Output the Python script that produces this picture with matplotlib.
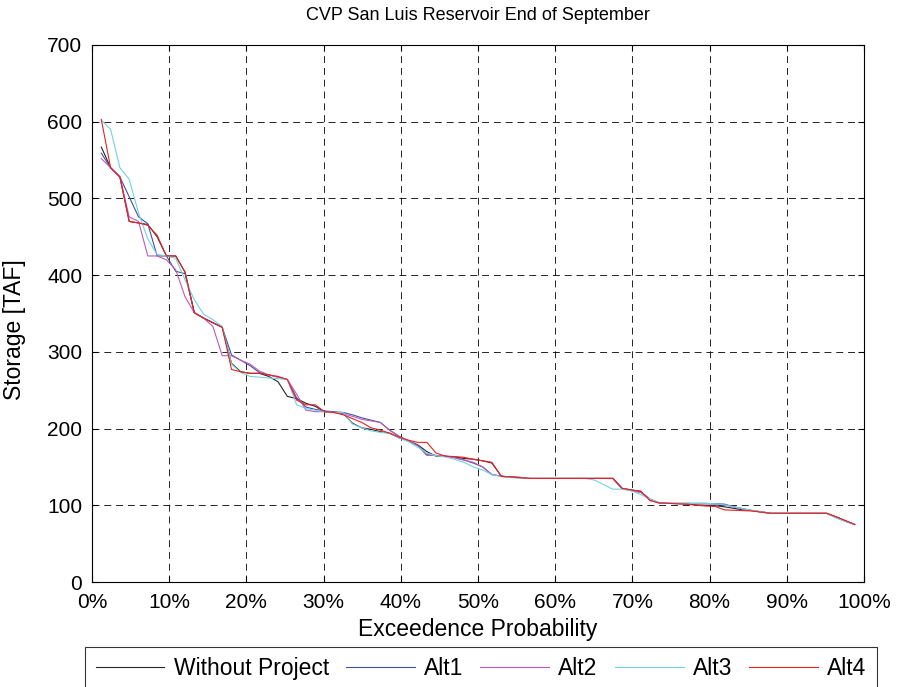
import matplotlib
matplotlib.use("Agg")
import matplotlib.pyplot as plt
import numpy as np

plt.rcParams['font.family'] = ['Liberation Sans', 'DejaVu Sans']
plt.rcParams['lines.scale_dashes'] = False

title = "CVP San Luis Reservoir End of September"
series_names = ["Without Project", "Alt1", "Alt2", "Alt3", "Alt4"]
series_colors = ["#262626", "#3f51a8", "#c05ab8", "#6fd3e3", "#ee2020"]

without_project = [567, 540, 528, 470, 468, 466, 450, 425, 425, 404,
                   351, 344, 338, 332, 285, 274, 272, 272, 268, 261,
                   242, 239, 233, 229, 222, 221, 220, 207, 201, 199,
                   196, 194, 188, 184, 179, 170, 164, 164, 163, 161,
                   160, 158, 155, 138, 137, 136.5, 135, 135, 135, 135,
                   135, 135, 135, 135, 135, 135, 122, 120, 118, 107,
                   103, 102.5, 102, 101.5, 100.5, 100, 99.5, 98, 96, 94,
                   93, 91, 89.5, 89.5, 89.5, 89.5, 89.5, 89.5, 89.5, 85,
                   80, 75]
alt1 = [559, 540, 528, 502, 476, 467, 425, 425, 405, 402,
        351, 344, 338, 332, 296, 289, 282, 273, 270, 267,
        264, 240, 228, 225, 223, 222, 221, 218, 214, 211,
        208, 198, 190, 184, 178, 166, 165, 164, 162, 159,
        155, 150, 140, 138, 136.5, 136, 135, 135, 135, 135,
        135, 135, 135, 135, 135, 135, 122, 119, 117, 108,
        103, 102.5, 102.5, 102.5, 102.5, 102.5, 102, 101.5, 98, 95.5,
        93, 91.5, 89.5, 89.5, 89.5, 89.5, 89.5, 89.5, 89.5, 84,
        79, 75]
alt2 = [552, 540, 528, 476, 470, 425, 425, 420, 407, 372,
        351, 344, 333, 295, 295, 289, 284, 275, 270, 267,
        264, 245, 224, 222, 222, 221, 219, 216, 212, 210,
        208, 198, 190, 184, 178, 165, 165, 164, 162, 159,
        156, 150, 140, 138, 136.5, 136, 135, 135, 135, 135,
        135, 135, 135, 135, 135, 135, 122, 119, 117, 108,
        103, 102.5, 102.5, 102.5, 102, 102, 101.5, 100.5, 98, 95,
        93, 91.5, 89.5, 89.5, 89.5, 89.5, 89.5, 89.5, 89.5, 84.5,
        79.5, 75]
alt3 = [602, 590, 540, 525, 481, 447, 427, 425, 422, 394,
        368, 349, 342, 333, 284, 273, 268, 267, 266, 265,
        264, 231, 226, 224, 222, 221, 221, 206, 201, 197,
        195, 194, 188, 183, 176, 168, 164.5, 163, 160, 156,
        150, 146, 140, 137.5, 136, 135.5, 135, 135, 135, 135,
        135, 135, 135, 133, 127, 121, 121, 119, 114, 108,
        103, 102.5, 102.5, 102.5, 102.5, 102.5, 102, 100.5, 98, 95.5,
        93.5, 91.5, 89.5, 89.5, 89.5, 89.5, 89.5, 89.5, 89.5, 83.5,
        79, 75]
alt4 = [603, 540, 528, 470, 468, 465, 452, 425, 425, 404,
        351, 344, 338, 332, 277, 274, 272, 272, 270, 268,
        264, 237, 231, 231, 222, 221, 218, 213, 208, 201,
        198, 194, 189, 185, 182, 182, 168, 164, 163.5, 162.5,
        160, 158, 156, 137.5, 137, 136, 135, 135, 135, 135,
        135, 135, 135, 135, 135, 135, 122, 120, 118.5, 106,
        103, 102.5, 102, 101.5, 100, 99, 98.5, 94, 93.5, 93,
        92.5, 91, 89.5, 89.5, 89.5, 89.5, 89.5, 89.5, 89.5, 85,
        80, 75]

x_ticks = [0, 0.1, 0.2, 0.3, 0.4, 0.5, 0.6, 0.7, 0.8, 0.9, 1.0]
x_ticklabels = ["0%", "10%", "20%", "30%", "40%", "50%", "60%", "70%", "80%", "90%", "100%"]
y_ticks = [0, 100, 200, 300, 400, 500, 600, 700]

all_series = [without_project, alt1, alt2, alt3, alt4]
n = len(without_project)
exceed = np.arange(1, n + 1) / (n + 1)

fig = plt.figure(figsize=(8.97, 6.87), dpi=100)
ax = fig.add_axes([92 / 897, 1 - 582 / 687, 772 / 897, 537 / 687])

for vals, name, col in zip(all_series, series_names, series_colors):
    ax.plot(exceed, vals, color=col, lw=0.8, label=name)

ax.set_xlim(0, 1)
ax.set_ylim(0, 700)
ax.set_xticks(x_ticks)
ax.set_xticklabels(x_ticklabels)
ax.set_yticks(y_ticks)
ax.grid(True, color="black", linestyle=(0, (5, 3.5)), linewidth=0.6)
ax.tick_params(direction="in", top=True, right=True, labelsize=15, length=4)
ax.tick_params(axis="x", pad=8)
ax.tick_params(axis="y", pad=7)
for s in ax.spines.values():
    s.set_linewidth(0.8)

ax.set_title(title, fontsize=13, pad=18)
ax.set_xlabel("Exceedence Probability", fontsize=16.5, labelpad=4)
ax.set_ylabel("Storage [TAF]", fontsize=16.5)
ax.yaxis.set_label_coords(-0.085, 0.47)

leg = fig.legend(loc="upper center", bbox_to_anchor=(481 / 897, 1 - 647 / 687),
                 ncol=5, fontsize=16.5, handlelength=3.0, handletextpad=0.4,
                 columnspacing=0.75, frameon=True, fancybox=False,
                 edgecolor="black", borderpad=0.45, borderaxespad=0)
leg.get_frame().set_linewidth(0.8)

fig.savefig("out.png", dpi=100)
